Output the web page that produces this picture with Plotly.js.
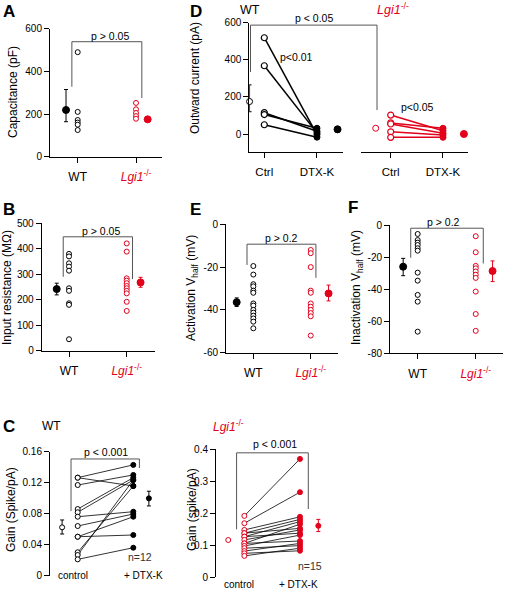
<!DOCTYPE html>
<html><head><meta charset="utf-8">
<script src="https://cdn.plot.ly/plotly-3.0.1.min.js"></script>
<style>html,body{margin:0;padding:0;background:#fff}#chart{width:505px;height:592px}</style>
</head><body><div id="chart"></div>
<script>
const W=505,H=592,FONT='"Liberation Sans", Arial, sans-serif',RED='#e2001a';
const px=v=>v/W, py=v=>1-v/H;

// ---------------- data ----------------
const groups=['WT','<i>Lgi1</i><sup>-/-</sup>'];
// A: capacitance (pF)
const capWT=[490,210,172,160,150,125];
const capKO=[252,222,205,190,178];
const capMean=[219,175], capErrUp=[96,6], capErrDn=[55,6];
// B: input resistance (MΩ)
const resWT=[380,370,343,330,314,245,235,186,180,45];
const resKO=[421,389,284,275,265,254,245,235,225,192,156];
const resMean=[242,268], resErrUp=[23,20], resErrDn=[23,19];
// E: activation Vhalf (mV)
const actWT=[-19.5,-23.5,-28,-29,-31,-32,-37,-38,-40,-41.3,-42.7,-44,-45.5,-48.6];
const actKO=[-12,-13.5,-20,-31,-32,-37,-38.5,-40,-41.5,-43,-52];
const actMean=[-36.4,-32.3], actErrUp=[2,3.9], actErrDn=[2,3.5];
// F: inactivation Vhalf (mV)
const inactWT=[-5.6,-9.4,-11,-12.5,-14.5,-16,-29.7,-34.7,-43.6,-47.8,-66.5];
const inactKO=[-7,-17,-25.5,-27,-29,-31,-33,-41.5,-55.5,-66];
const inactMean=[-26,-28.7], inactErrUp=[5.2,6.3], inactErrDn=[5.6,6.6];
// D: outward current (pA)
const condLabels=['Ctrl','DTX-K'];
const curWTctrl=[519,368,115,105,50], curWTdtx=[-3,6,15,31,-17];
const curKOctrl=[102,60,54,12,-18], curKOdtx=[18,31,4,-5,-18];
const curMeanWT=[175,25], curErrWTUp=[90,16], curErrWTDn=[55,16];
const curMeanKO=[31,0], curErrKO=[0,5];
// C: gain (spike/pA)
const gainLabels=['control','+ DTX-K'];
const gainWTctrl=[0.1265,0.1265,0.117,0.086,0.0818,0.0761,0.0641,0.0503,0.0503,0.0302,0.0267,0.0211];
const gainWTdtx =[0.143,0.1157,0.130,0.1265,0.1235,0.0826,0.0796,0.0761,0.0525,0.1157,0.1235,0.0361];
const gainMeanWT=[0.0624,0.0998], gainErrWTUp=[0.0095,0.0092], gainErrWTDn=[0.0086,0.0098];
const gainKOctrl=[0.191,0.168,0.147,0.137,0.137,0.126,0.126,0.116,0.105,0.105,0.097,0.090,0.081,0.074,0.066];
const gainKOdtx =[0.369,0.265,0.188,0.180,0.152,0.173,0.137,0.147,0.1125,0.165,0.131,0.098,0.105,0.082,0.090];
const gainMeanKO=[0.1156,0.160], gainErrKOUp=[0,0.020], gainErrKODn=[0,0.018];

// ---------------- helpers ----------------
const traces=[];
function pts(xa,ya,x,ys,col,size,filled,lw){
  traces.push({type:'scatter',mode:'markers',xaxis:xa,yaxis:ya,x:ys.map(()=>x),y:ys,cliponaxis:false,hoverinfo:'skip',
    marker:{symbol:'circle',size:size,color:filled?col:'#fff',line:{color:col,width:lw}}});
}
function mean(xa,ya,x,m,up,dn,col,size,filled){
  traces.push({type:'scatter',mode:'markers',xaxis:xa,yaxis:ya,x:[x],y:[m],cliponaxis:false,hoverinfo:'skip',
    marker:{symbol:'circle',size:size,color:filled?col:'#fff',line:{color:col,width:1}},
    error_y:{type:'data',symmetric:false,array:[up],arrayminus:[dn],color:col,thickness:1,width:2,visible:(up>0||dn>0)}});
}
function pairs(xa,ya,c,d,col,w){
  c.forEach((v,i)=>traces.push({type:'scatter',mode:'lines',xaxis:xa,yaxis:ya,x:[1,2],y:[v,d[i]],cliponaxis:false,hoverinfo:'skip',line:{color:col,width:w}}));
}
function bracket(xa,ya,x0,x1,yTop,yL,yR){
  return {type:'path',xref:xa,yref:ya,path:`M ${x0},${yL} L ${x0},${yTop} L ${x1},${yTop} L ${x1},${yR}`,line:{color:'#555',width:1}};
}
function ann(text,xp,yp,size,extra){
  return Object.assign({text:text,x:px(xp),y:py(yp),xref:'paper',yref:'paper',showarrow:false,xanchor:'center',yanchor:'middle',
    font:{family:FONT,size:size,color:'#000'}},extra||{});
}
const tickTextGroups=[groups[0],`<span style="color:${RED}">${groups[1]}</span>`];
function xax(d0,d1,range,anchor,ticktext,extra){
  return Object.assign({domain:[px(d0),px(d1)],range:range,anchor:anchor,showgrid:false,zeroline:false,showline:true,linecolor:'#000',linewidth:1,
    ticks:'outside',ticklen:5,tickcolor:'#000',tickwidth:1,tickvals:[1,2],ticktext:ticktext,ticklabelstandoff:4,
    tickfont:{family:FONT,size:12,color:'#000'},fixedrange:true},extra||{});
}
function yax(top,bot,range,anchor,tv,extra){
  return Object.assign({domain:[py(bot),py(top)],range:range,anchor:anchor,showgrid:false,zeroline:false,showline:true,linecolor:'#000',linewidth:1,
    ticks:'outside',ticklen:5,tickcolor:'#000',tickwidth:1,tickvals:tv,ticktext:tv.map(v=>String(v)),
    tickfont:{family:FONT,size:10,color:'#000'},fixedrange:true},extra||{});
}
const hiddenX=(d0,d1,range,anchor)=>({domain:[px(d0),px(d1)],range:range,anchor:anchor,showgrid:false,zeroline:false,showline:false,ticks:'',showticklabels:false,fixedrange:true});

// ---------------- A ----------------
mean('x','y',0.8,capMean[0],capErrUp[0],capErrDn[0],'#000',7,true);
pts('x','y',1,capWT,'#000',5,false,1);
pts('x','y',2,capKO,RED,5,false,1);
mean('x','y',2.2,capMean[1],capErrUp[1],capErrDn[1],RED,7,true);
// ---------------- B ----------------
mean('x4','y4',0.787,resMean[0],resErrUp[0],resErrDn[0],'#000',7,true);
pts('x4','y4',1,resWT,'#000',5,false,1);
pts('x4','y4',2,resKO,RED,5,false,1);
mean('x4','y4',2.24,resMean[1],resErrUp[1],resErrDn[1],RED,7,true);
// ---------------- E ----------------
mean('x5','y5',0.71,actMean[0],actErrUp[0],actErrDn[0],'#000',7,true);
pts('x5','y5',1,actWT,'#000',5,false,1);
pts('x5','y5',2,actKO,RED,5,false,1);
mean('x5','y5',2.31,actMean[1],actErrUp[1],actErrDn[1],RED,7,true);
// ---------------- F ----------------
mean('x6','y6',0.75,inactMean[0],inactErrUp[0],inactErrDn[0],'#000',7,true);
pts('x6','y6',1,inactWT,'#000',5,false,1);
pts('x6','y6',2,inactKO,RED,5,false,1);
mean('x6','y6',2.29,inactMean[1],inactErrUp[1],inactErrDn[1],RED,7,true);
// ---------------- D ----------------
mean('x2','y2',0.72,curMeanWT[0],curErrWTUp[0],curErrWTDn[0],'#000',6,false);
pairs('x2','y2',curWTctrl,curWTdtx,'#000',1.5);
pts('x2','y2',2,curWTdtx,'#000',6,true,1);
pts('x2','y2',1,curWTctrl,'#000',6,false,1.2);
mean('x2','y2',2.39,curMeanWT[1],curErrWTUp[1],curErrWTDn[1],'#000',7,true);
mean('x3','y2',0.713,curMeanKO[0],curErrKO[0],curErrKO[0],RED,6,false);
pairs('x3','y2',curKOctrl,curKOdtx,RED,1.5);
pts('x3','y2',2,curKOdtx,RED,6,true,1);
pts('x3','y2',1,curKOctrl,RED,6,false,1.2);
mean('x3','y2',2.4,curMeanKO[1],curErrKO[1],curErrKO[1],RED,7,true);
// ---------------- C ----------------
mean('x7','y7',0.72,gainMeanWT[0],gainErrWTUp[0],gainErrWTDn[0],'#000',5,false);
pairs('x7','y7',gainWTctrl,gainWTdtx,'#000',0.8);
pts('x7','y7',1,gainWTctrl,'#000',5,false,1);
pts('x7','y7',2,gainWTdtx,'#000',5,true,1);
mean('x7','y7',2.28,gainMeanWT[1],gainErrWTUp[1],gainErrWTDn[1],'#000',5,true);
mean('x8','y8',0.71,gainMeanKO[0],gainErrKOUp[0],gainErrKODn[0],RED,5,false);
pairs('x8','y8',gainKOctrl,gainKOdtx,'#000',0.8);
pts('x8','y8',1,gainKOctrl,RED,5,false,1);
pts('x8','y8',2,gainKOdtx,RED,5,true,1);
mean('x8','y8',2.33,gainMeanKO[1],gainErrKOUp[1],gainErrKODn[1],RED,5,true);

// ---------------- layout ----------------
const layout={
  width:W,height:H,margin:{l:0,r:0,t:0,b:0},paper_bgcolor:'#fff',plot_bgcolor:'rgba(0,0,0,0)',showlegend:false,
  font:{family:FONT,color:'#000'},
  xaxis:xax(50,162,[0.525,2.446],'y',tickTextGroups),
  yaxis:yax(28.7,156.7,[0,600],'x',[0,200,400,600]),
  xaxis2:xax(249.3,342.7,[0.715,2.488],'y2',condLabels,{tickfont:{family:FONT,size:11.5,color:'#000'}}),
  yaxis2:yax(22.7,152,[-97,600],'x2',[0,200,400,600]),
  xaxis3:xax(361,468.3,[0.432,2.484],'y2',condLabels,{tickfont:{family:FONT,size:11.5,color:'#000'}}),
  xaxis4:xax(41.7,155,[0.527,2.49],'y4',tickTextGroups),
  yaxis4:yax(223.3,350.7,[0,500],'x4',[0,100,200,300,400,500]),
  xaxis5:xax(226,338.3,[0.524,2.48],'y5',tickTextGroups),
  yaxis5:yax(224.3,352.7,[-60,0],'x5',[-60,-40,-20,0]),
  xaxis6:xax(390,503,[0.523,2.47],'y6',tickTextGroups),
  yaxis6:yax(225,353.3,[-80,0],'x6',[-80,-60,-40,-20,0]),
  xaxis7:hiddenX(50,160,[0.502,2.48],'y7'),
  yaxis7:yax(451.7,575.7,[0,0.16],'x7',[0,0.04,0.08,0.12,0.16]),
  xaxis8:hiddenX(216,330,[0.49,2.54],'y8'),
  yaxis8:yax(449,577,[0,0.4],'x8',[0,0.1,0.2,0.3,0.4]),
  shapes:[
    bracket('x','y',0.9,2.1,539,328,275),
    bracket('x4','y4',0.9,2.1,447,290,281),
    bracket('x5','y5',0.89,2.09,-9.3,-19,-25),
    bracket('x6','y6',0.88,2.13,-2,-20.4,-24),
    bracket('x7','y7',0.88,2.11,0.1506,0.0835,0.139),
    bracket('x8','y8',0.86,2.15,0.388,0.149,0.2125),
    bracket('paper','y2',px(250.5),px(377),587,334,129)
  ],
  annotations:[
    ann('<b>A</b>',9,11.5,17), ann('<b>D</b>',196,11.5,17), ann('<b>B</b>',9,209,17),
    ann('<b>E</b>',195,209,17), ann('<b>F</b>',353,207.5,17), ann('<b>C</b>',9,426,17),
    ann('WT',250,10,12.5), ann(`<span style="color:${RED}">${groups[1]}</span>`,393,9,12.5),
    ann('WT',51,426,12), ann(`<span style="color:${RED}">${groups[1]}</span>`,228,426,12),
    ann('Capacitance (pF)',13,92,12,{textangle:-90}),
    ann('Outward current (pA)',195,78,12,{textangle:-90}),
    ann('Input resistance (MΩ)',7,288,12,{textangle:-90}),
    ann('Activation V<sub>half</sub> (mV)',192,288,12,{textangle:-90}),
    ann('Inactivation V<sub>half</sub> (mV)',357,288,12,{textangle:-90}),
    ann('Gain (Spike/pA)',11,510,12,{textangle:-90}),
    ann('Gain (spike/pA)',192,510,12,{textangle:-90}),
    ann('p &gt; 0.05',110,36,10.5), ann('p &gt; 0.05',100.5,230.7,10.5),
    ann('p &gt; 0.2',281.7,238.3,10.5), ann('p &gt; 0.2',443.3,222.3,10.5),
    ann('p &lt; 0.05',313.7,18.3,10.5), ann('p&lt;0.01',296.7,57.3,10.5), ann('p&lt;0.05',417.7,107.3,10.5),
    ann('p &lt; 0.001',105.5,451.7,10.5), ann('p &lt; 0.001',275,444.3,10.5),
    ann('n=12',140,556.7,10.5,{font:{family:FONT,size:10.5,color:'#333'}}),
    ann('n=15',309.5,565.7,10.5,{font:{family:FONT,size:10.5,color:'#333'}}),
    ann(gainLabels[0],73.3,575.7,10), ann(gainLabels[1],143,575.7,10),
    ann(gainLabels[0],238.5,584.3,10), ann(gainLabels[1],298.5,584.3,10)
  ]
};
Plotly.newPlot('chart',traces,layout,{staticPlot:true,displayModeBar:false});
</script></body></html>
